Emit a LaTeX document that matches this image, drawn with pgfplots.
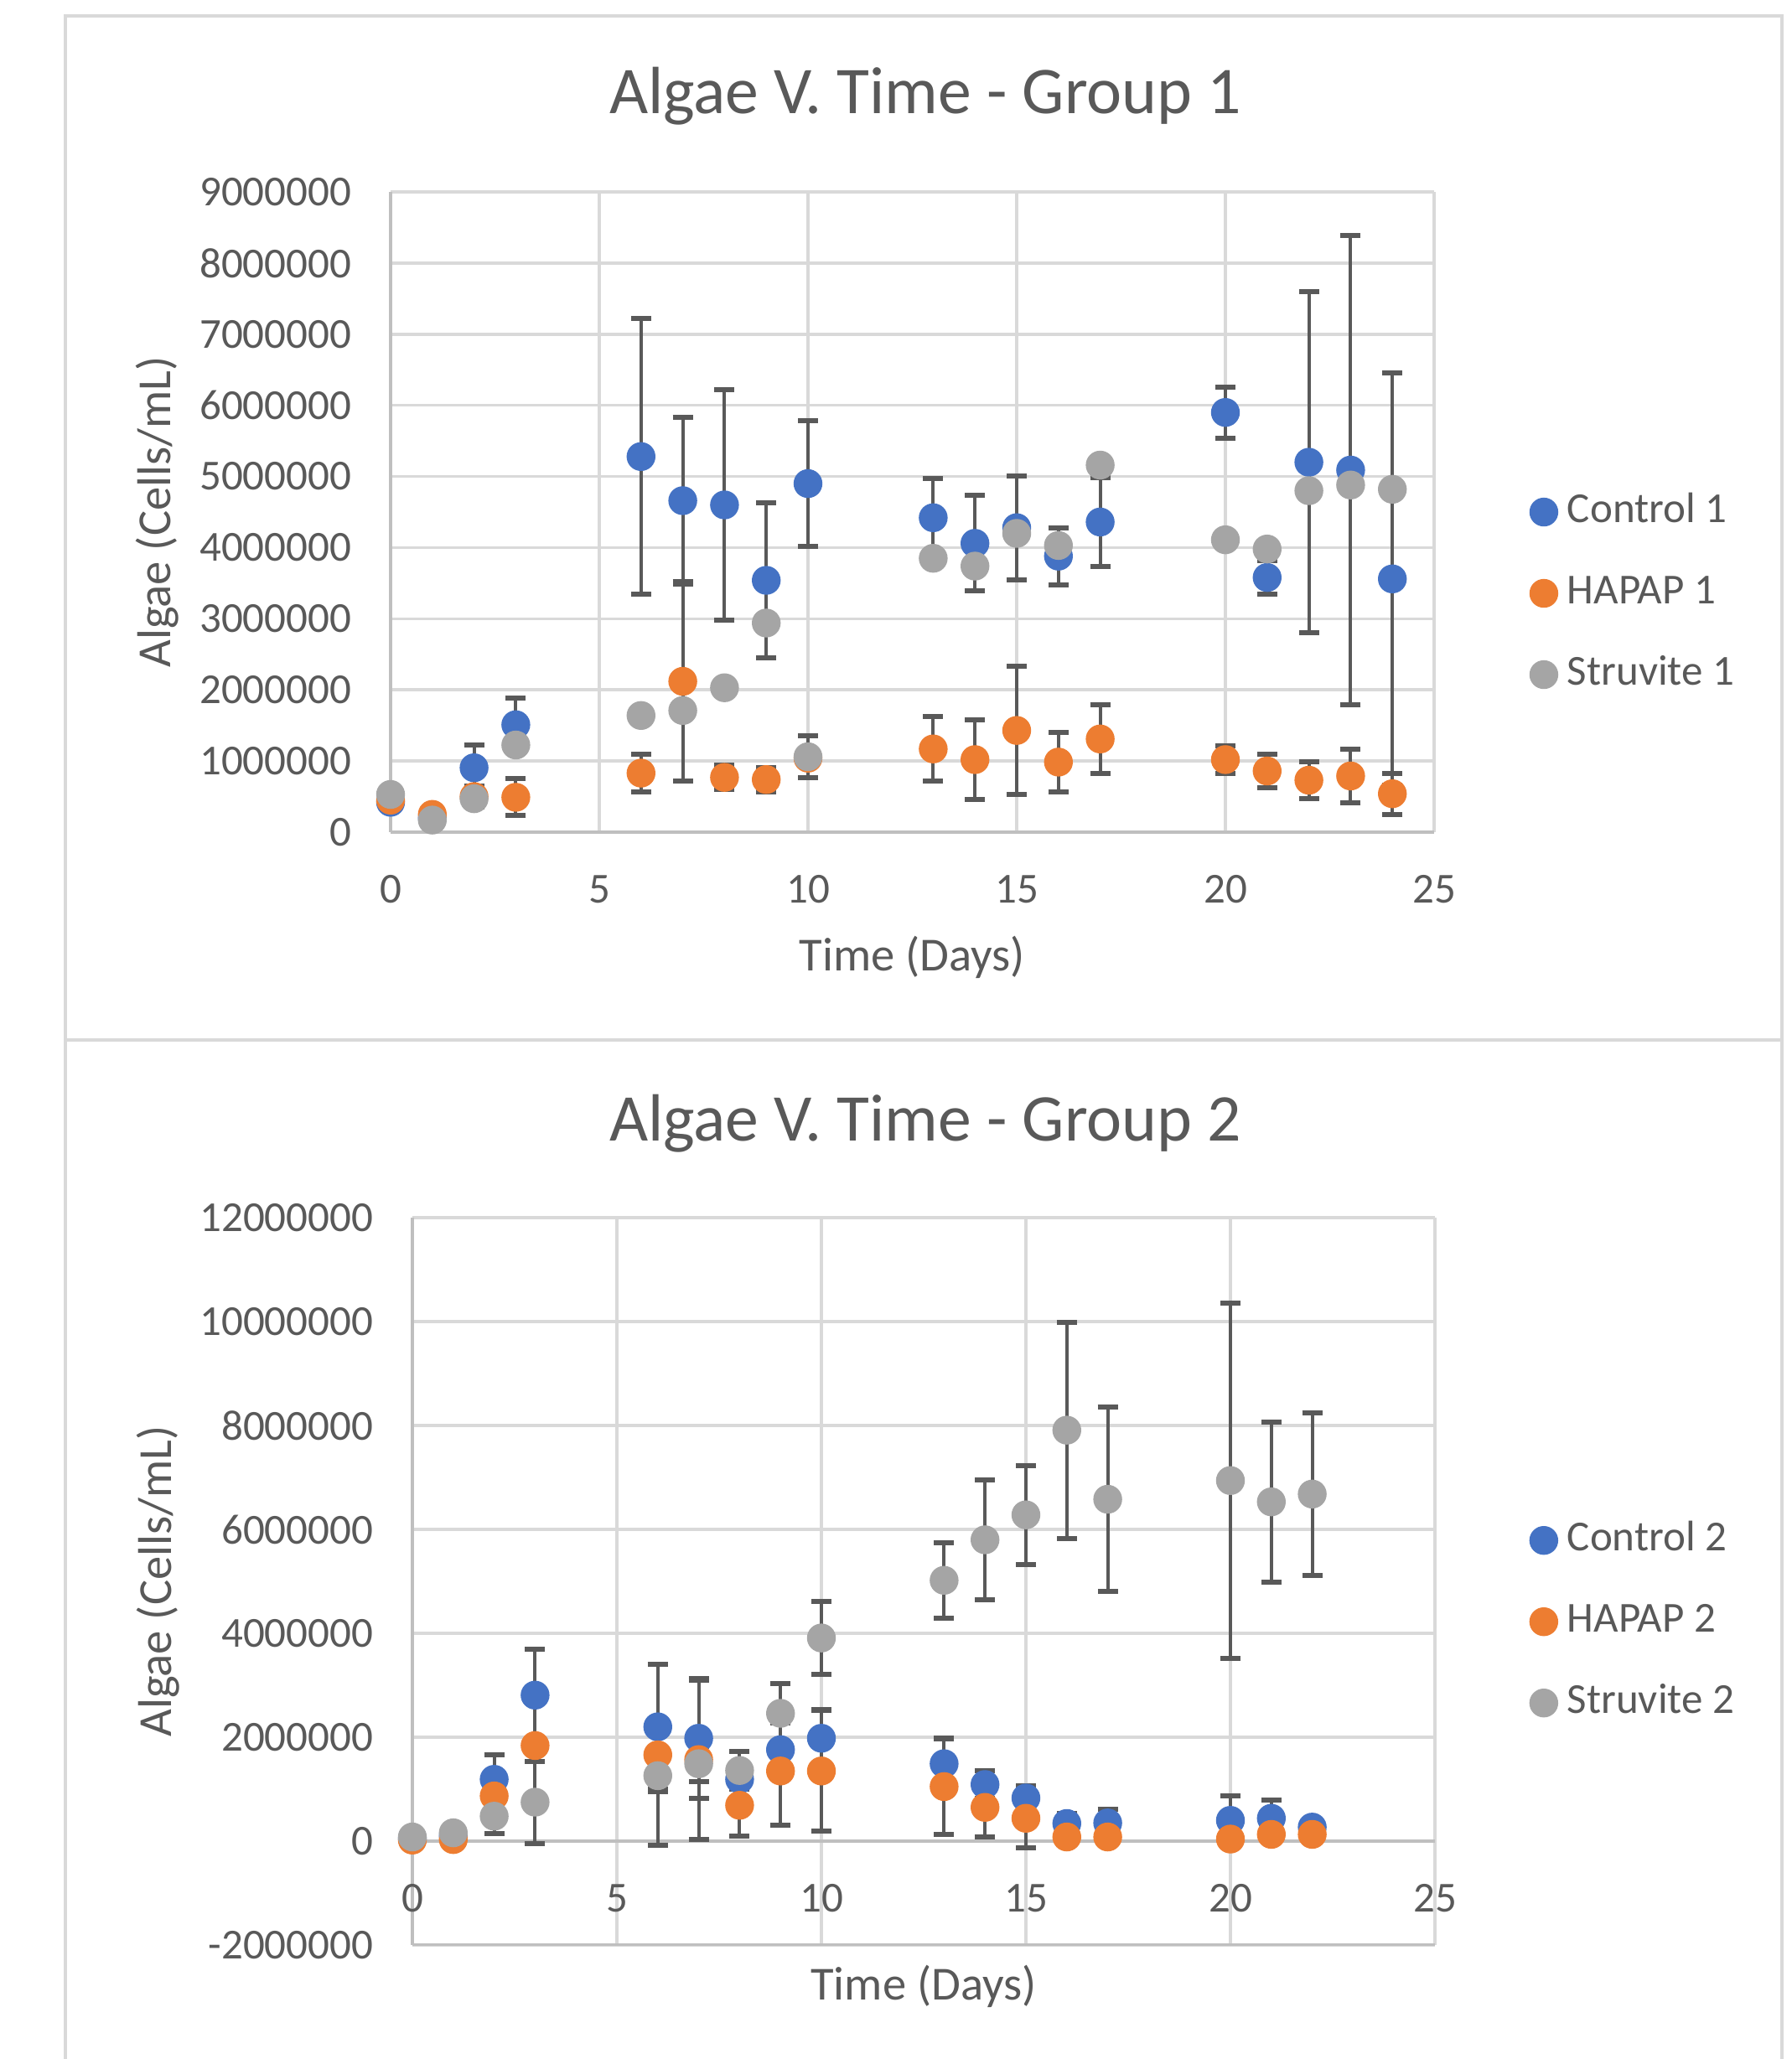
\documentclass[border=0pt]{standalone}
\usepackage{fontspec}
\setmainfont{Carlito}
\usepackage{pgfplots}
\pgfplotsset{compat=1.18}
\usepackage{pgfplotstable}

\definecolor{cblue}{HTML}{4472C4}
\definecolor{corange}{HTML}{ED7D31}
\definecolor{cgray}{HTML}{A5A5A5}
\definecolor{txt}{HTML}{595959}
\definecolor{gridc}{HTML}{D9D9D9}
\definecolor{axc}{HTML}{BFBFBF}
\definecolor{errc}{HTML}{595959}

\pgfplotstableread{
x y e
0 420000 0
1 200000 0
2 905000 320000
3 1510000 380000
6 5280000 1940000
7 4660000 1170000
8 4600000 1620000
9 3540000 1090000
10 4900000 880000
13 4420000 550000
14 4060000 670000
15 4280000 730000
16 3880000 400000
17 4360000 620000
20 5900000 360000
21 3580000 240000
22 5200000 2400000
23 5090000 3300000
24 3560000 2900000
}\ctrlA
\pgfplotstableread{
x y e
0 450000 0
1 250000 0
2 500000 150000
3 490000 260000
6 830000 270000
7 2120000 1400000
8 770000 170000
9 740000 170000
10 1040000 0
13 1170000 450000
14 1020000 560000
15 1430000 900000
16 985000 420000
17 1310000 480000
20 1020000 190000
21 860000 230000
22 730000 260000
23 790000 380000
24 540000 290000
}\hapA
\pgfplotstableread{
x y e
0 530000 0
1 170000 0
2 470000 0
3 1225000 0
6 1640000 0
7 1710000 0
8 2030000 0
9 2940000 0
10 1060000 290000
13 3850000 0
14 3740000 0
15 4200000 0
16 4030000 0
17 5160000 0
20 4110000 0
21 3980000 0
22 4800000 0
23 4880000 0
24 4820000 0
}\struA

\pgfplotstableread{
x y e
0 50000 0
1 100000 0
2 1190000 470000
3 2810000 880000
6 2200000 1200000
7 1980000 1150000
8 1190000 150000
9 1760000 520000
10 1980000 560000
13 1490000 500000
14 1090000 260000
15 830000 240000
16 340000 200000
17 350000 270000
20 400000 470000
21 440000 350000
22 270000 0
}\ctrlB
\pgfplotstableread{
x y e
0 20000 0
1 30000 0
2 870000 0
3 1840000 0
6 1660000 1740000
7 1570000 1530000
8 690000 590000
9 1350000 1040000
10 1350000 1160000
13 1050000 920000
14 650000 570000
15 440000 570000
16 80000 0
17 80000 0
20 40000 0
21 130000 150000
22 130000 0
}\hapB
\pgfplotstableread{
x y e
0 80000 0
1 160000 0
2 480000 340000
3 750000 790000
6 1260000 300000
7 1490000 340000
8 1360000 360000
9 2460000 570000
10 3910000 700000
13 5020000 730000
14 5800000 1160000
15 6280000 950000
16 7910000 2080000
17 6580000 1780000
20 6940000 3420000
21 6530000 1540000
22 6680000 1560000
}\struB

\pgfplotsset{
  excel/.style={
    scale only axis, anchor=south west,
    xmin=0, xmax=25, xtick={0,5,10,15,20,25},
    grid=major, major grid style={gridc, line width=0.9bp},
    major tick length=0pt,
    axis line style={axc, line width=1.1bp, -},
    tick label style={font=\fontsize{12.8}{15}\selectfont, text=txt, inner sep=0pt},
    /pgf/number format/assume math mode=true,
    scaled y ticks=false,
    y tick label style={/pgf/number format/fixed, /pgf/number format/precision=0, /pgf/number format/1000 sep={}},
    xticklabel style={anchor=north, yshift=-12.75bp},
    yticklabel style={anchor=east, xshift=-11.5bp},
    legend style={draw=none, fill=none, font=\fontsize{12.8}{15}\selectfont, text=txt,
      anchor=west, inner sep=0pt, outer sep=0pt, row sep=12.25bp, column sep=2.9bp,
      nodes={inner sep=0pt, text height=9bp, text depth=3bp, anchor=west}},
    legend cell align=left,
    legend image code/.code={\draw[##1] plot coordinates {(0bp,0bp)};},
  },
  ser/.style={only marks, mark=*, mark size=4.1bp, color=#1, mark options={draw=#1, fill=#1},
    error bars/.cd, y dir=both, y explicit,
    error bar style={errc, line width=1bp},
    error mark options={rotate=90, errc, mark size=3bp, line width=1.5bp}},
}

\begin{document}
\begin{tikzpicture}
\useasboundingbox (0,0) rectangle (534.5bp,-614.25bp);
\fill[white] (0,0) rectangle (534.5bp,-614.25bp);
\draw[gridc, line width=1.2bp] (19.5bp,-4.75bp) rectangle (531.5bp,-310.25bp);
\draw[gridc, line width=1.2bp] (19.5bp,-625bp) -- (19.5bp,-310.25bp) -- (531.5bp,-310.25bp) -- (531.5bp,-625bp);

\node[anchor=base, font=\fontsize{20}{24}\selectfont, text=txt] at (276bp,-33.75bp) {Algae V. Time - Group 1};
\node[anchor=base, font=\fontsize{20}{24}\selectfont, text=txt] at (276bp,-340.4bp) {Algae V. Time - Group 2};

\begin{axis}[excel,
  at={(116.5bp,-248.25bp)}, width=311.25bp, height=191bp,
  ymin=0, ymax=9000000, ytick={0,1000000,2000000,3000000,4000000,5000000,6000000,7000000,8000000,9000000},
  axis lines*=left,
  xlabel={Time (Days)}, ylabel={Algae (Cells/mL)},
  every axis x label/.style={at={(axis description cs:0.5,-0.196)}, anchor=center, font=\fontsize{14.2}{17}\selectfont, text=txt},
  every axis y label/.style={at={(axis description cs:-0.2233,0.5)}, rotate=90, anchor=center, font=\fontsize{14.2}{17}\selectfont, text=txt},
  legend style={at={(axis description cs:1.092,0.373)}},
]
\addplot[ser=cblue] table[x=x, y=y, y error=e] {\ctrlA};
\addlegendentry{Control 1}
\addplot[ser=corange] table[x=x, y=y, y error=e] {\hapA};
\addlegendentry{HAPAP 1}
\addplot[ser=cgray] table[x=x, y=y, y error=e] {\struA};
\addlegendentry{Struvite 1}
\end{axis}

\begin{axis}[excel,
  at={(123bp,-580.25bp)}, width=305bp, height=217bp,
  ymin=-2000000, ymax=12000000, ytick={-2000000,0,2000000,4000000,6000000,8000000,10000000,12000000},
  axis x line*=middle, axis y line*=left,
  hide obscured x ticks=false, hide obscured y ticks=false,
  xlabel={Time (Days)}, ylabel={Algae (Cells/mL)},
  every axis x label/.style={at={(axis description cs:0.5,-0.0565)}, anchor=center, font=\fontsize{14.2}{17}\selectfont, text=txt},
  every axis y label/.style={at={(axis description cs:-0.249,0.5)}, rotate=90, anchor=center, font=\fontsize{14.2}{17}\selectfont, text=txt},
  legend style={at={(axis description cs:1.093,0.4445)}},
]
\draw[axc, line width=1.1bp] (rel axis cs:0,0) -- (rel axis cs:1,0);
\addplot[ser=cblue] table[x=x, y=y, y error=e] {\ctrlB};
\addlegendentry{Control 2}
\addplot[ser=corange] table[x=x, y=y, y error=e] {\hapB};
\addlegendentry{HAPAP 2}
\addplot[ser=cgray] table[x=x, y=y, y error=e] {\struB};
\addlegendentry{Struvite 2}
\end{axis}
\end{tikzpicture}
\end{document}
